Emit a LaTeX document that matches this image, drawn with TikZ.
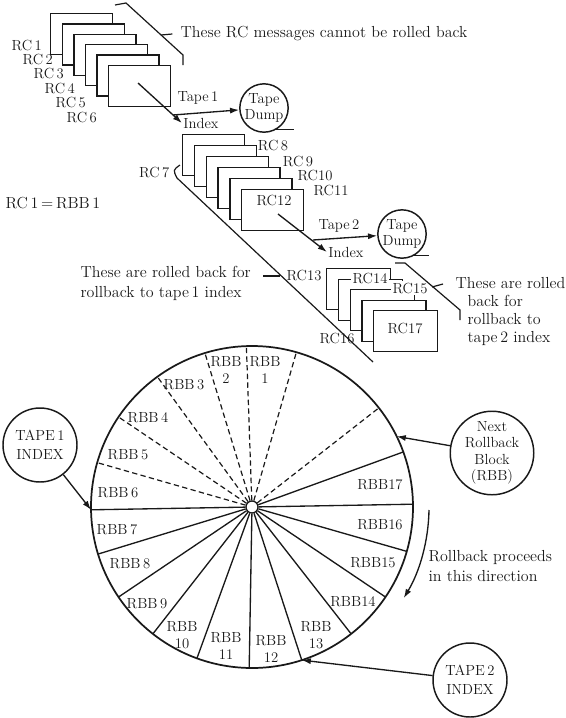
\documentclass[tikz,border=0pt]{standalone}
\usepackage{fontspec}
\usetikzlibrary{arrows.meta}
\definecolor{RbInk}{RGB}{25,25,25}
\tikzset{
  rb/card/.style={
    draw=RbInk,
    line width=1.1pt,
    fill=white,
    anchor=north west,
    minimum width=46.5pt,
    minimum height=30.75pt,
    inner sep=0pt
  },
  rb/label/.style={font=\fontsize{11}{13}\selectfont, text=RbInk, inner sep=1pt, align=center},
  rb/text/.style={font=\fontsize{12}{15}\selectfont, text=RbInk, inner sep=1pt, align=left},
  rb/reel/.style={
    circle,
    draw=RbInk,
    line width=1.1pt,
    minimum size=34.5pt,
    inner sep=0pt,
    align=center,
    text=RbInk,
    font=\fontsize{11}{12}\selectfont
  },
  rb/tag/.style={
    circle,
    draw=RbInk,
    line width=1.1pt,
    minimum size=55.5pt,
    inner sep=0pt,
    align=center,
    text=RbInk,
    font=\fontsize{11}{14}\selectfont
  },
  rb/wheel/.style={circle, draw=RbInk, line width=1.3pt, minimum size=241.5pt, inner sep=0pt, outer sep=0pt},
  rb/hub/.style={circle, draw=RbInk, line width=1pt, fill=white, minimum size=9pt, inner sep=0pt},
  rb/arrow/.style={-{Latex[length=2.4mm,width=1.6mm]}, line width=1pt, draw=RbInk},
  rb/line/.style={line width=0.9pt, draw=RbInk},
  rb/spoke/.style={line width=1pt, draw=RbInk},
  rb/dspoke/.style={line width=0.9pt, draw=RbInk, dash pattern=on 4pt off 2.5pt}
}

\begin{document}
\begin{tikzpicture}[x=0.75pt,y=-0.75pt]
  \useasboundingbox (0,0) rectangle (566,718);
  \foreach \i in {0,...,5}
    \node[rb/card] (a\i) at ({50+11.6*\i},{13+10.3*\i}) {};
  \foreach \i in {1,...,6}
    \node[rb/label,anchor=west] (rc\i) at ({10+11*(\i-1)},{45+14.4*(\i-1)}) {RC\,\i};
  \draw[rb/line] (115,5) -- (126,3) -- (183,55) -- (183,65);
  \node[rb/text,anchor=west] (keep) at (179,34) {These RC messages cannot be rolled back};
  \coordinate (kb) at (161,35);
  \draw[rb/line] (kb) -- ([xshift=-5pt]keep.west);
  \node[rb/reel] (dump1) at (264,108) {Tape\\Dump};
  \draw[rb/line] (dump1.-60) -- ++(18,0);
  \coordinate (cut1) at (138,83);
  \coordinate (out1) at (173,115);
  \node[rb/label] (idx1) at (201,123) {Index};
  \node[rb/label] (tp1) at (198,98) {Tape\,1};
  \draw[rb/arrow] (cut1) -- (idx1.west);
  \draw[rb/arrow] (out1) -- (dump1);

  \foreach \i in {0,...,5}
    \node[rb/card] (b\i) at ({182+11.8*\i},{134+11*\i}) {};
  \foreach \x/\y/\t in {273/145/{RC\,8}, 298/161/{RC\,9}, 315/175/RC10, 331/190/RC11, 274/200/RC12}
    \node[rb/label] at (\x,\y) {\t};
  \node[rb/label,anchor=east] (rc7) at (171,172) {RC\,7};
  \draw[rb/line] (180,165) .. controls (173,170) .. (177,178) -- (373,362);
  \node[rb/reel] (dump2) at (402,234) {Tape\\Dump};
  \draw[rb/line] (dump2.-60) -- ++(15,0);
  \coordinate (cut2) at (278,214);
  \coordinate (out2) at (313,240);
  \node[rb/label] (idx2) at (346,252) {Index};
  \node[rb/label] (tp2) at (339,226) {Tape\,2};
  \draw[rb/arrow] (cut2) -- (idx2.west);
  \draw[rb/arrow] (out2) -- (dump2);

  \foreach \i in {0,...,4}
    \node[rb/card,minimum width=48pt] (c\i) at ({326+11.75*\i},{268+10.5*\i}) {};
  \node[rb/label] (rc13) at (304,275) {RC13};
  \node[rb/label,fill=white] (rc14) at (370,278) {RC14};
  \node[rb/label,fill=white] (rc15) at (410,288) {RC15};
  \node[rb/label] (rc16) at (337,338) {RC16};
  \node[rb/label] (rc17) at (405,328) {RC17};
  \node[rb/text,anchor=west] (back1) at (79,283) {These are rolled back for\\rollback to tape\,1 index};
  \coordinate (lb) at (280,276);
  \draw[rb/line] (lb) -- ++(-17,0);
  \draw[rb/line] (395,263) -- (405,263) -- (460,310) -- (460,320);
  \node[rb/text,anchor=west,font=\fontsize{12}{13.3}\selectfont] (back2) at (454,311.5)
    {These are rolled\\\hspace*{9pt}back for\\\hspace*{9pt}rollback to\\\hspace*{9pt}tape\,2 index};
  \coordinate (rb) at (432,287);
  \draw[rb/line] (rb) -- ++(11,-3);
  \node[rb/text,anchor=west] (eq) at (4,203) {RC\,1\,=\,RBB\,1};

  \node[rb/wheel] (wheel) at (252,507) {};
  \node[rb/hub] (hub) at (252,507) {};
  \foreach \a in {1,20,181,197,214,232,250,269,288,308,326,344}
    \draw[rb/spoke] (hub.\a) -- (wheel.\a);
  \foreach \a in {38,74,92,107,126,146,164}
    \draw[rb/dspoke] (hub.\a) -- (wheel.\a);
  \foreach \x/\y/\t in {265/370/{RBB\\1}, 226/370/{RBB\\2}, 184/385/{RBB\,3}, 148/418/{RBB\,4},
      128/455/{RBB\,5}, 118/493/{RBB\,6}, 117/530/{RBB\,7}, 130/564/{RBB\,8}, 147/604/{RBB\,9},
      182/635/{RBB\\10}, 226/646/{RBB\\11}, 271/649/{RBB\\12}, 316/635/{RBB\\13},
      353/602/RBB14, 373/563/RBB15, 380/525/RBB16, 380/485/RBB17}
    \node[rb/label,font=\fontsize{11}{12.5}\selectfont] at (\x,\y) {\t};

  \node[rb/tag] (tape1) at (40,445) {TAPE\,1\\INDEX};
  \node[rb/tag,font=\fontsize{11}{12.4}\selectfont] (nextrb) at (492,453) {Next\\Rollback\\Block\\(RBB)};
  \node[rb/tag] (tape2) at (470,680) {TAPE\,2\\INDEX};
  \draw[rb/arrow] (tape1) -- (wheel.181);
  \draw[rb/arrow] (nextrb) -- (wheel.26);
  \draw[rb/arrow] (tape2) -- (wheel.288);
  \coordinate (dirA) at (429,510);
  \draw[rb/arrow] (dirA) arc[start angle=1, end angle=31, radius=177];
  \node[rb/text,anchor=west,font=\fontsize{12}{14.5}\selectfont] (dirtxt) at (427,566) {Rollback proceeds\\in this direction};
\end{tikzpicture}
\end{document}
